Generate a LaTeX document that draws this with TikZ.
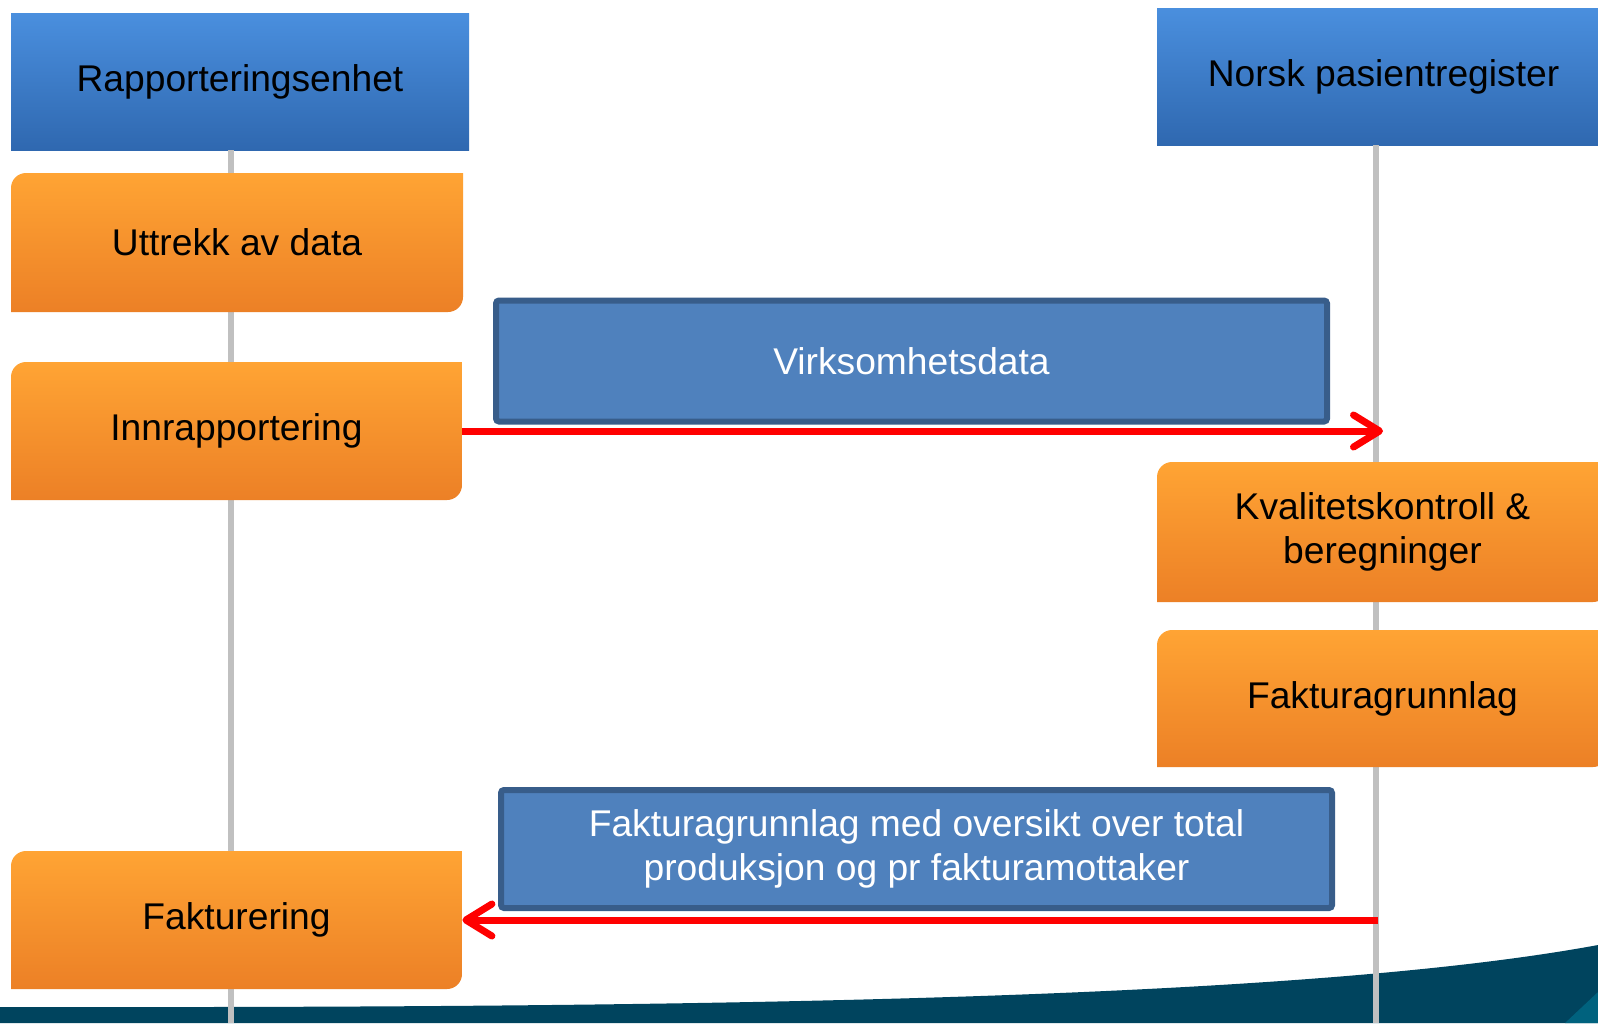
\documentclass[tikz,border=0pt]{standalone}
\usepackage{fontspec}
\setmainfont{Liberation Sans}
\usetikzlibrary{arrows.meta}
\definecolor{hdrtop}{RGB}{74,143,222}
\definecolor{hdrbot}{RGB}{47,104,176}
\definecolor{ortop}{RGB}{255,164,52}
\definecolor{orbot}{RGB}{236,128,38}
\definecolor{msgfill}{RGB}{79,129,189}
\definecolor{msgdraw}{RGB}{56,93,138}
\definecolor{lifegray}{RGB}{192,192,192}
\definecolor{swoosh}{RGB}{0,68,94}
\definecolor{swooshlight}{RGB}{0,98,126}
\definecolor{arrowred}{RGB}{255,0,0}
\tikzset{
  txt/.style={font=\fontsize{18.6}{22}\selectfont},
  hdr/.style={rectangle, draw=none, inner sep=0pt, top color=hdrtop, bottom color=hdrbot, text=black, txt},
  ofill/.style={top color=ortop, bottom color=orbot},
  obox/.style={rectangle, draw=none, fill=white, inner sep=0pt, text=black, align=center, txt,
    path picture={\path[ofill] (path picture bounding box.north) [rounded corners=7.5pt] -- (path picture bounding box.north west) -- (path picture bounding box.west) [sharp corners] -- (path picture bounding box.south west) -- (path picture bounding box.south) [rounded corners=7.5pt] -- (path picture bounding box.south east) -- (path picture bounding box.east) [sharp corners] -- (path picture bounding box.north east) -- cycle;}},
  msgbox/.style={rectangle, draw=msgdraw, line width=3pt, fill=msgfill, rounded corners=1.5pt, inner sep=0pt, text=white, align=center, txt},
  life/.style={draw=lifegray, line width=3.4pt},
  msg/.style={draw=arrowred, line width=3.5pt, -{Straight Barb[length=13pt,width=16pt,line cap=round,line join=round]}},
}
\begin{document}
\begin{tikzpicture}[x=0.5pt,y=-0.5pt]
\clip (0,0) rectangle (1598,1023);
\fill[white] (0,0) rectangle (1598,1023);
% bottom swoosh
\fill[swoosh] (0,1007) .. controls (700,1008) and (1300,1000) .. (1598,945) -- (1598,1023) -- (0,1023) -- cycle;
\fill[swooshlight] (1565,1023) -- (1598,992) -- (1598,1023) -- cycle;
% header boxes
\node[hdr, minimum width=229pt, minimum height=68.5pt] (rap) at (240,81.5) {Rapporteringsenhet};
\node[hdr, minimum width=226.5pt, minimum height=68.5pt] (npr) at (1383.5,76.5) {Norsk pasientregister};
% lifelines
\coordinate (lb) at (231,1023);
\coordinate (rb) at (1376,1023);
\draw[life] (rap.south -| lb) -- (lb);
\draw[life] (npr.south -| rb) -- (rb);
% activity boxes
\node[obox, minimum width=226pt, minimum height=69.5pt] (utt) at (237,242.5) {Uttrekk av data};
\node[obox, minimum width=225.5pt, minimum height=69pt] (inn) at (236.5,431) {Innrapportering};
\node[obox, minimum width=225.5pt, minimum height=69pt] (fak) at (236.5,920) {Fakturering};
\node[obox, minimum width=225.5pt, minimum height=70pt] (kval) at (1382.5,532) {Kvalitetskontroll \&\\beregninger};
\node[obox, minimum width=225.5pt, minimum height=68.5pt] (fg) at (1382.5,698.5) {Fakturagrunnlag};
% message boxes
\node[msgbox, minimum width=415.5pt, minimum height=60.5pt] (virk) at (911.5,361) {Virksomhetsdata};
\node[msgbox, minimum width=415.5pt, minimum height=59pt] (fgm) at (916.5,849) {Fakturagrunnlag med oversikt over total\\produksjon og pr fakturamottaker};
% messages
\coordinate (r1) at (1383,431);
\coordinate (r2) at (1378,920);
\draw[msg] (inn.east) -- (r1);
\draw[msg] (r2) -- (fak.east);
\end{tikzpicture}
\end{document}
